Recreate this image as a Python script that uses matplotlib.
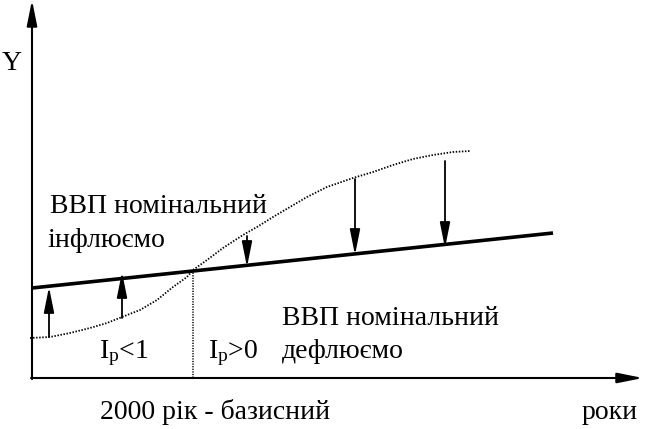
import numpy as np
import matplotlib
matplotlib.use('Agg')
import matplotlib.pyplot as plt

plt.rcParams['font.family'] = ['Liberation Serif', 'DejaVu Serif']
plt.rcParams['mathtext.fontset'] = 'custom'
plt.rcParams['mathtext.rm'] = 'Liberation Serif'
plt.rcParams['mathtext.it'] = 'Liberation Serif:italic'

# scheme in picture units (x to the right, y downward)
real_x = [32, 553]
real_y = [288, 233]

nominal_x = [30, 50, 70, 90, 107, 122, 140, 157, 173, 187, 193, 207, 223, 243,
             257, 273, 290, 307, 327, 353, 373, 393, 413, 433, 453, 470]
nominal_y = [338, 337, 333, 328, 323, 317, 310, 300, 287, 277, 270, 260, 248, 235,
             227, 217, 207, 197, 187, 178, 172, 165, 159, 155, 152, 151]

# arrows: x, start on dotted curve, tip on the real line
arrow_x = [49, 122, 247, 355, 445]
arrow_from = [337, 318, 236, 179, 161]
arrow_to = [287, 272, 267, 255, 248]

base_x = 193
base_y = 270

labels = {
    'y': 'Y',
    'x': 'роки',
    'base': '2000 рік - базисний',
    'infl1': 'ВВП номінальний',
    'infl2': 'інфлюємо',
    'defl1': 'ВВП номінальний',
    'defl2': 'дефлюємо',
    'ip1': r'I$_\mathrm{p}$<1',
    'ip2': r'I$_\mathrm{p}$>0',
}

fig = plt.figure(figsize=(6.5, 4.29), dpi=100)
ax = fig.add_axes([0, 0, 1, 1])
ax.set_xlim(0, 650)
ax.set_ylim(429, 0)
ax.axis('off')

head = '-|>,head_length=1.4,head_width=0.28'

# axes arrows
ax.annotate('', xy=(32, 0), xytext=(32, 379),
            arrowprops=dict(arrowstyle=head, mutation_scale=11, lw=1.5, color='black',
                            shrinkA=0, shrinkB=0))
ax.annotate('', xy=(643, 378), xytext=(31, 378),
            arrowprops=dict(arrowstyle=head, mutation_scale=11, lw=1.5, color='black',
                            shrinkA=0, shrinkB=0))

# real GDP line and nominal curve
ax.plot(real_x, real_y, color='black', lw=2.6, solid_capstyle='butt')
ax.plot(nominal_x, nominal_y, color='black', lw=1.3, linestyle=(0, (0.8, 0.9)))
ax.plot([base_x, base_x], [base_y, 378], color='black', lw=1.1, linestyle=(0, (0.8, 0.9)))

for xa, y0, y1 in zip(arrow_x, arrow_from, arrow_to):
    ax.annotate('', xy=(xa, y1), xytext=(xa, y0),
                arrowprops=dict(arrowstyle=head, mutation_scale=11, lw=1.3, color='black',
                                shrinkA=0, shrinkB=0))

fs = 20
ax.text(2, 70, labels['y'], fontsize=fs, va='baseline')
ax.text(50, 213, labels['infl1'], fontsize=fs, va='baseline')
ax.text(47, 247, labels['infl2'], fontsize=fs, va='baseline')
ax.text(282, 325, labels['defl1'], fontsize=fs, va='baseline')
ax.text(282, 358, labels['defl2'], fontsize=fs, va='baseline')
ax.text(99, 358, labels['ip1'], fontsize=fs, va='baseline')
ax.text(208, 358, labels['ip2'], fontsize=fs, va='baseline')
ax.text(100, 419, labels['base'], fontsize=fs, va='baseline')
ax.text(582, 419, labels['x'], fontsize=fs, va='baseline')

fig.savefig('out.png', dpi=100, facecolor='white')
